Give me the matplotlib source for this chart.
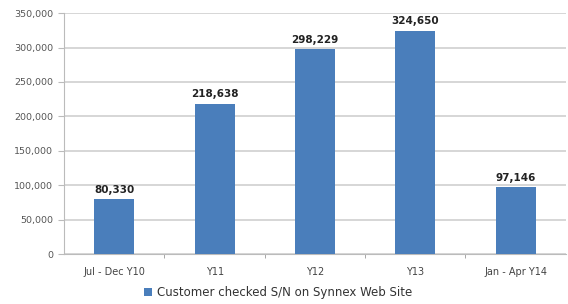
import matplotlib.pyplot as plt
from matplotlib.ticker import FuncFormatter, MultipleLocator

categories = ['Jul - Dec Y10', 'Y11', 'Y12', 'Y13', 'Jan - Apr Y14']
checks = [80330, 218638, 298229, 324650, 97146]
series_name = 'Customer checked S/N on Synnex Web Site'

bar_color = '#4a7ebb'

fig = plt.figure(figsize=(5.68, 3.04), dpi=100)
ax = fig.add_axes([0.113, 0.164, 0.883, 0.793])

x = range(len(categories))
bars = ax.bar(x, checks, width=0.4, color=bar_color, label=series_name, zorder=3)

for b, v in zip(bars, checks):
    ax.text(b.get_x() + b.get_width() / 2, v + 6000, f'{v:,}',
            ha='center', va='bottom', fontsize=7.5, fontweight='bold', color='#222222')

ax.set_ylim(0, 350000)
ax.set_xlim(-0.5, len(categories) - 0.5)
ax.yaxis.set_major_locator(MultipleLocator(50000))
ax.yaxis.set_major_formatter(FuncFormatter(lambda v, p: f'{int(v):,}'))
ax.grid(axis='y', color='#d0d0d0', linewidth=1.2, zorder=0)

ax.set_xticks(list(x))
ax.set_xticklabels(categories)
ax.set_xticks([i + 0.5 for i in range(len(categories) - 1)], minor=True)
ax.tick_params(axis='x', which='major', length=0, labelsize=7, colors='#444444', pad=9)
ax.tick_params(axis='x', which='minor', length=3, color='#999999')
ax.tick_params(axis='y', length=4, labelsize=6.8, colors='#555555', pad=4)
ax.tick_params(axis='y', color='#bbbbbb')

for s in ['top', 'right']:
    ax.spines[s].set_visible(False)
ax.spines['left'].set_color('#bbbbbb')
ax.spines['bottom'].set_color('#bbbbbb')

fig.legend(loc='lower center', bbox_to_anchor=(0.49, -0.02), frameon=False,
           fontsize=8.5, handlelength=0.7, handleheight=0.7, handletextpad=0.4,
           labelcolor='#333333')

fig.savefig('out.png', dpi=100)
